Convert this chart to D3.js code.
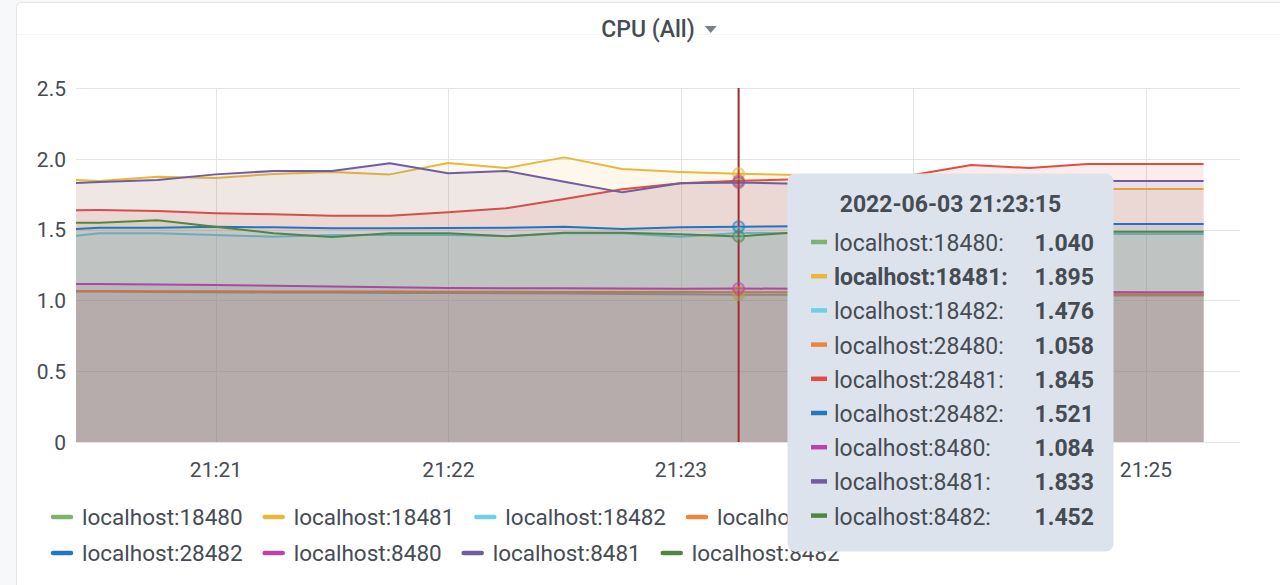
<!DOCTYPE html>
<html>
<head>
<meta charset="utf-8">
<script src="https://cdn.jsdelivr.net/npm/d3@7"></script>
<style>
  html, body { margin: 0; padding: 0; background: #f7f8fa; }
  svg { display: block; font-family: Roboto, "Noto Sans", sans-serif; }
</style>
</head>
<body>
<svg id="chart" width="1280" height="585"></svg>
<script>
// ---------- data ----------
const title = "CPU (All)";
const times = ["21:20:15","21:20:30","21:20:45","21:21:00","21:21:15","21:21:30","21:21:45",
  "21:22:00","21:22:15","21:22:30","21:22:45","21:23:00","21:23:15","21:23:30","21:23:45",
  "21:24:00","21:24:15","21:24:30","21:24:45","21:25:00","21:25:15"];
const seriesNames = ["localhost:18480","localhost:18481","localhost:18482","localhost:28480",
  "localhost:28481","localhost:28482","localhost:8480","localhost:8481","localhost:8482"];
const seriesColors = ["#7EB26D","#EAB839","#6ED0E0","#EF843C","#E24D42","#1F78C1","#BA43A9","#705DA0","#508642"];
const s18480 = [1.062,1.062,1.060,1.058,1.056,1.055,1.053,1.052,1.050,1.048,1.046,1.044,1.040,1.040,1.038,1.037,1.036,1.035,1.035,1.035,1.035];
const s18481 = [1.860,1.843,1.874,1.864,1.893,1.907,1.890,1.970,1.935,2.010,1.928,1.907,1.895,1.886,1.872,1.830,1.800,1.787,1.787,1.787,1.787];
const s18482 = [1.430,1.474,1.474,1.462,1.450,1.462,1.462,1.462,1.455,1.474,1.474,1.450,1.476,1.474,1.470,1.469,1.469,1.469,1.469,1.469,1.469];
const s28480 = [1.066,1.066,1.065,1.064,1.063,1.062,1.062,1.061,1.061,1.060,1.060,1.059,1.058,1.057,1.055,1.052,1.050,1.047,1.045,1.044,1.044];
const s28481 = [1.636,1.638,1.631,1.615,1.608,1.598,1.598,1.622,1.650,1.716,1.785,1.827,1.845,1.855,1.865,1.885,1.956,1.935,1.963,1.963,1.963];
const s28482 = [1.490,1.513,1.513,1.520,1.516,1.509,1.509,1.511,1.513,1.520,1.504,1.516,1.521,1.523,1.527,1.532,1.536,1.539,1.539,1.539,1.539];
const s8480  = [1.117,1.116,1.113,1.109,1.104,1.098,1.093,1.088,1.086,1.085,1.084,1.083,1.084,1.082,1.078,1.073,1.068,1.063,1.060,1.058,1.058];
const s8481  = [1.820,1.836,1.850,1.890,1.914,1.914,1.968,1.898,1.914,1.838,1.763,1.827,1.833,1.824,1.828,1.836,1.843,1.843,1.843,1.843,1.843];
const s8482  = [1.549,1.549,1.566,1.520,1.474,1.448,1.474,1.474,1.453,1.478,1.478,1.467,1.452,1.481,1.482,1.484,1.485,1.485,1.485,1.485,1.485];
const seriesValues = [s18480,s18481,s18482,s28480,s28481,s28482,s8480,s8481,s8482];
const yTicks = [0, 0.5, 1.0, 1.5, 2.0, 2.5];
const yTickLabels = ["0","0.5","1.0","1.5","2.0","2.5"];
const xTicks = ["21:21:00","21:22:00","21:23:00","21:24:00","21:25:00"];
const rangeStart = "21:20:24", rangeEnd = "21:25:24";
const day = "2022-06-03";
const hoverIndex = 12;

// ---------- setup ----------
const parse = d3.timeParse("%Y-%m-%d %H:%M:%S");
const T = t => parse(day + " " + t);
const svg = d3.select("#chart");
const textColor = "#464c54";

// panel
svg.append("rect").attr("x", 16.5).attr("y", 2.5).attr("width", 1275).attr("height", 600)
  .attr("rx", 4).attr("fill", "#ffffff").attr("stroke", "#e3e6ea");
svg.append("line").attr("x1", 17).attr("x2", 1280).attr("y1", 34.5).attr("y2", 34.5)
  .attr("stroke", "#f5f6f7");

// title
const titleG = svg.append("g");
const titleText = titleG.append("text").attr("x", 648).attr("y", 37).attr("text-anchor", "middle")
  .attr("font-size", 23).attr("font-weight", 500).attr("fill", textColor).text(title);
const tw = titleText.node().getComputedTextLength();
const cx = 648 + tw / 2 + 16;
titleG.append("path").attr("d", `M${cx - 6},26 L${cx + 6},26 L${cx},33 Z`).attr("fill", "#7b8087");

// scales
const plotL = 76, plotR = 1238.5, plotT = 88, plotB = 442;
const x = d3.scaleTime().domain([T(rangeStart), T(rangeEnd)]).range([plotL, plotR]);
const y = d3.scaleLinear().domain([0, 2.5]).range([plotB, plotT]);

// grid
const grid = svg.append("g");
grid.selectAll("line.h").data(yTicks).join("line")
  .attr("x1", plotL).attr("x2", 1240)
  .attr("y1", d => Math.round(y(d)) + 0.5).attr("y2", d => Math.round(y(d)) + 0.5)
  .attr("stroke", "#e4e4e4").attr("stroke-width", 1);
grid.selectAll("line.v").data(xTicks).join("line")
  .attr("x1", d => Math.round(x(T(d))) + 0.5).attr("x2", d => Math.round(x(T(d))) + 0.5)
  .attr("y1", plotT).attr("y2", plotB)
  .attr("stroke", "#e4e4e4").attr("stroke-width", 1);

// y axis labels
const yAxis = d3.axisLeft(y).tickValues(yTicks).tickFormat((d, i) => yTickLabels[i]).tickSize(0).tickPadding(0);
const yg = svg.append("g").attr("transform", "translate(66,0)").call(yAxis);
yg.select(".domain").remove();
yg.selectAll("text").attr("font-size", 21).attr("fill", textColor).attr("font-family", "Roboto").attr("dy", "0.35em");

// x axis labels
const xAxis = d3.axisBottom(x).tickValues(xTicks.map(T)).tickFormat(d3.timeFormat("%H:%M")).tickSize(0).tickPadding(0);
const xg = svg.append("g").attr("transform", "translate(0,462)").call(xAxis);
xg.select(".domain").remove();
xg.selectAll("text").attr("font-size", 21).attr("fill", textColor).attr("font-family", "Roboto").attr("dy", "0.71em");

// clip
svg.append("defs").append("clipPath").attr("id", "clip")
  .append("rect").attr("x", plotL).attr("y", 60).attr("width", plotR - plotL).attr("height", plotB - 60);

const plot = svg.append("g").attr("clip-path", "url(#clip)");
const area = d3.area().x((d, i) => x(T(times[i]))).y0(y(0)).y1(d => y(d));
const line = d3.line().x((d, i) => x(T(times[i]))).y(d => y(d));

seriesValues.forEach((vals, k) => {
  plot.append("path").attr("d", area(vals)).attr("fill", seriesColors[k]).attr("fill-opacity", 0.1);
  plot.append("path").attr("d", line(vals)).attr("fill", "none").attr("stroke", seriesColors[k])
    .attr("stroke-width", 2).attr("stroke-linejoin", "round");
});

// crosshair
const hx = x(T(times[hoverIndex]));
svg.append("line").attr("x1", hx).attr("x2", hx).attr("y1", plotT).attr("y2", plotB)
  .attr("stroke", "#a52a2a").attr("stroke-width", 2);
seriesValues.forEach((vals, k) => {
  svg.append("circle").attr("cx", hx).attr("cy", y(vals[hoverIndex])).attr("r", 5.5)
    .attr("fill", seriesColors[k]).attr("fill-opacity", 0.2)
    .attr("stroke", seriesColors[k]).attr("stroke-opacity", 0.6).attr("stroke-width", 2);
});

// legend
const legend = svg.append("g");
const rows = [[0,1,2,3,4],[5,6,7,8]];
const rowY = [517, 553];
rows.forEach((row, r) => {
  let sx = 51;
  row.forEach(k => {
    legend.append("line").attr("x1", sx + 2).attr("x2", sx + 20).attr("y1", rowY[r]).attr("y2", rowY[r])
      .attr("stroke", seriesColors[k]).attr("stroke-width", 4.5).attr("stroke-linecap", "round");
    const t = legend.append("text").attr("x", sx + 31).attr("y", rowY[r]).attr("dy", "0.35em")
      .attr("font-size", 22.5).attr("fill", textColor).text(seriesNames[k]);
    sx = sx + 31 + t.node().getComputedTextLength() + 20;
  });
});

// tooltip
const tip = svg.append("g");
tip.append("rect").attr("x", 787.5).attr("y", 173.5).attr("width", 326).attr("height", 378)
  .attr("rx", 8).attr("fill", "#dde3ec");
tip.append("text").attr("x", 950.5).attr("y", 212).attr("text-anchor", "middle")
  .attr("font-size", 23).attr("font-weight", 700).attr("fill", textColor)
  .text(d3.timeFormat("%Y-%m-%d %H:%M:%S")(T(times[hoverIndex])));
seriesNames.forEach((name, k) => {
  const cy = 243 + k * 34.2;
  const bold = k === 1;
  tip.append("line").attr("x1", 811).attr("x2", 827).attr("y1", cy - 1).attr("y2", cy - 1)
    .attr("stroke", seriesColors[k]).attr("stroke-width", 4.5).attr("stroke-linecap", "butt");
  tip.append("text").attr("x", 834).attr("y", cy).attr("dy", "0.35em")
    .attr("font-size", 23).attr("font-weight", bold ? 700 : 400).attr("fill", textColor)
    .text(name + ":");
  tip.append("text").attr("x", 1094).attr("y", cy).attr("dy", "0.35em").attr("text-anchor", "end")
    .attr("font-size", 23).attr("font-weight", 700).attr("fill", textColor)
    .text(d3.format(".3f")(seriesValues[k][hoverIndex]));
});
</script>
</body>
</html>
